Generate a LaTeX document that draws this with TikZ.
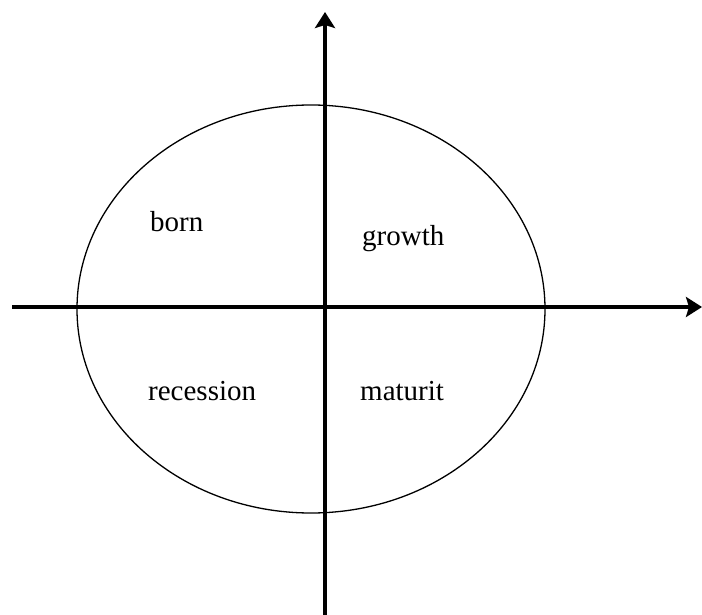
\documentclass[tikz,border=0pt]{standalone}
\usepackage{fontspec}
\setmainfont{Liberation Serif}
\usetikzlibrary{arrows.meta,shapes.geometric}

\begin{document}
\begin{tikzpicture}[x=1pt,y=-1pt,
 axis/.style={-{Stealth[length=16pt,width=20pt,inset=3pt]},line width=3.5pt},
 cycle/.style={draw,ellipse,line width=1.3pt,minimum width=468pt,minimum height=408pt,inner sep=0pt},
 phase/.style={anchor=base west,inner sep=0pt,font=\fontsize{29}{32}\selectfont}]
\useasboundingbox (0,0) rectangle (702,615);
\node[cycle] (life) at (311,309) {};
\coordinate (xstart) at (12,307);
\coordinate (xend) at (702,307);
\coordinate (ystart) at (325,615);
\coordinate (yend) at (325,12);
\draw[axis] (xstart) -- (xend);
\draw[axis] (ystart) -- (yend);
\node[phase] (born) at (150,232) {born};
\node[phase] (growth) at (362,245) {growth};
\node[phase] (recession) at (148,400) {recession};
\node[phase] (maturit) at (360,400) {maturit};
\end{tikzpicture}
\end{document}
